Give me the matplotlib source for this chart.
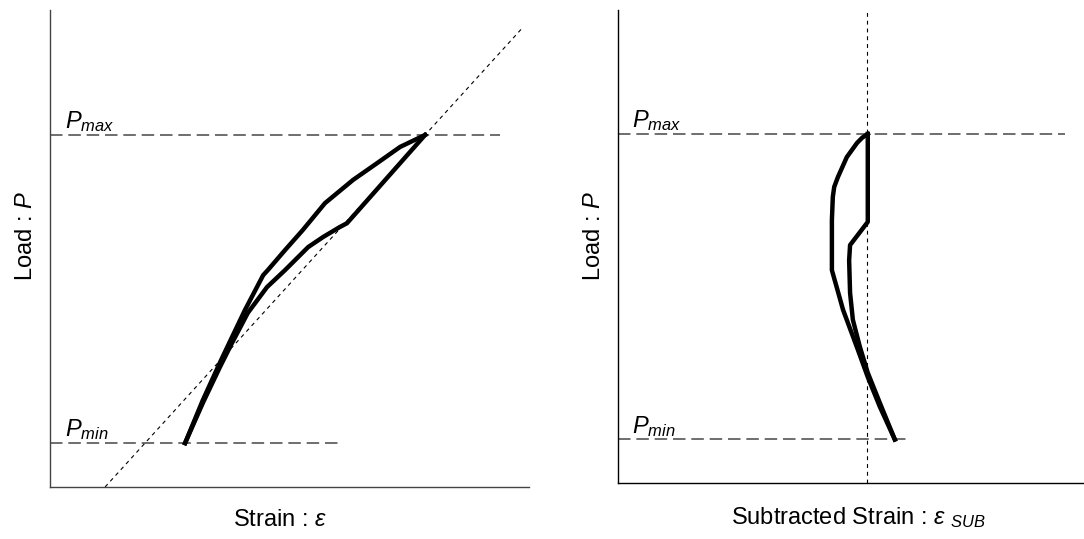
import numpy as np
import matplotlib
matplotlib.use("Agg")
import matplotlib.pyplot as plt

plt.rcParams['font.family'] = ['Liberation Sans', 'DejaVu Sans']
plt.rcParams['mathtext.fontset'] = 'custom'
plt.rcParams['mathtext.rm'] = 'Liberation Sans'
plt.rcParams['mathtext.it'] = 'Liberation Sans:italic'

# рівні навантаження
p_max = 73.8
p_min = 9.2

# петля деформації (ліва панель)
load_up_x = [28.2, 31.9, 35.9, 40.7, 44.5, 45.5, 49.1, 52.8, 57.4, 63.3, 68.3, 73.1, 78.3]
load_up_y = [9.2, 18.2, 27.0, 37.1, 44.4, 45.5, 49.7, 53.9, 59.5, 64.4, 67.9, 71.3, 73.8]
load_down_x = [78.3, 62.0, 60.5, 57.0, 53.9, 49.1, 45.3, 41.3, 38.0, 35.5, 31.9, 28.2]
load_down_y = [73.8, 55.3, 54.5, 52.4, 50.3, 45.5, 41.9, 36.5, 30.2, 25.2, 17.6, 9.2]

# дотична (пружна ділянка)
tangent_x = [11.5, 98.4]
tangent_y = [0.0, 96.0]

# віднята деформація (права панель)
sub_a_x = [53.6, 53.6, 49.8, 49.6, 49.8, 50.4, 51.9, 53.6, 56.2, 59.4]
sub_a_y = [73.8, 55.2, 50.3, 47.1, 40.2, 34.5, 28.8, 23.3, 16.9, 9.2]
sub_b_x = [53.6, 52.4, 51.3, 49.1, 47.2, 46.4, 46.1, 45.9, 45.9, 48.3, 51.5, 53.6, 56.2, 59.4]
sub_b_y = [73.8, 73.0, 71.9, 68.9, 64.7, 62.6, 60.5, 55.6, 45.0, 36.6, 28.1, 22.4, 16.1, 9.2]
sub_zero = 53.5

fig = plt.figure(figsize=(10.84, 5.39), dpi=100)
ax1 = fig.add_axes([50 / 1084, 52 / 539, 479 / 1084, 477 / 539])
ax2 = fig.add_axes([618 / 1084, 56 / 539, 466 / 1084, 473 / 539])

p_dash = dict(color='#555555', lw=1.2, dashes=(7.5, 3.5))
dot_dash = dict(color='black', lw=0.8, dashes=(3.5, 3.5))
curve = dict(color='black', lw=3.2, solid_joinstyle='round')

# ліва панель
ax1.plot([0, 94], [p_max, p_max], **p_dash)
ax1.plot([0, 61], [p_min, p_min], **p_dash)
ax1.plot(tangent_x, tangent_y, **dot_dash)
ax1.plot(load_up_x, load_up_y, **curve)
ax1.plot(load_down_x, load_down_y, **curve)
ax1.text(3.1, p_max + 0.2, r'$P_{max}$', fontsize=17, va='bottom')
ax1.text(3.1, p_min + 0.2, r'$P_{min}$', fontsize=17, va='bottom')
ax1.set_xlabel(r'Strain : $\varepsilon$', fontsize=17, labelpad=16, x=0.48)
ax1.set_ylabel(r'Load : $P$', fontsize=17, labelpad=9, y=0.526)

# права панель
ax2.plot([0, 96], [p_max, p_max], **p_dash)
ax2.plot([0, 62], [p_min, p_min], **p_dash)
ax2.plot([sub_zero, sub_zero], [0, 99.5], **dot_dash)
ax2.plot(sub_a_x, sub_a_y, **curve)
ax2.plot(sub_b_x, sub_b_y, **curve)
ax2.text(3.0, p_max + 0.2, r'$P_{max}$', fontsize=17, va='bottom')
ax2.text(3.0, p_min + 0.2, r'$P_{min}$', fontsize=17, va='bottom')
ax2.set_xlabel(r'Subtracted Strain : $\varepsilon$ $_{SUB}$', fontsize=17, labelpad=16, x=0.515)
ax2.set_ylabel(r'Load : $P$', fontsize=17, labelpad=9, y=0.522)

for ax, sc in [(ax1, '#444444'), (ax2, 'black')]:
    ax.set_xlim(0, 100)
    ax.set_ylim(0, 100)
    ax.set_xticks([])
    ax.set_yticks([])
    ax.spines['top'].set_visible(False)
    ax.spines['right'].set_visible(False)
    ax.spines['left'].set_color(sc)
    ax.spines['bottom'].set_color(sc)
    ax.spines['left'].set_linewidth(1.0)
    ax.spines['bottom'].set_linewidth(1.0)

fig.savefig('out.png', dpi=100)
